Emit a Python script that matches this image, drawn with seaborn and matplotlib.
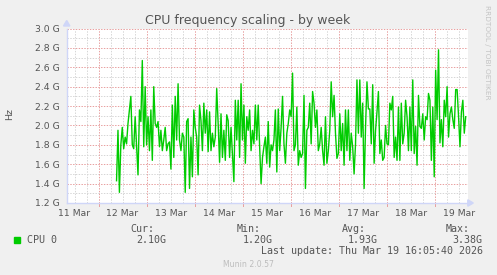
import numpy as np
import pandas as pd
import matplotlib
matplotlib.use("Agg")
import matplotlib.pyplot as plt
import seaborn as sns

# ---------------- data ----------------
title = "CPU frequency scaling - by week"
day_labels = ["11 Mar", "12 Mar", "13 Mar", "14 Mar", "15 Mar", "16 Mar", "17 Mar", "18 Mar", "19 Mar"]
ytick_values = [1.2, 1.4, 1.6, 1.8, 2.0, 2.2, 2.4, 2.6, 2.8, 3.0]
ytick_labels = ["1.2 G", "1.4 G", "1.6 G", "1.8 G", "2.0 G", "2.2 G", "2.4 G", "2.6 G", "2.8 G", "3.0 G"]
series_name = "CPU 0"
stat_names = ["Cur:", "Min:", "Avg:", "Max:"]
stat_values = ["2.10G", "1.20G", "1.93G", "3.38G"]
last_update = "Last update: Thu Mar 19 16:05:40 2026"

# time window in days since 11 Mar 00:00
view_start, view_end = 0.337, 8.700
data_start, data_end = 1.375, 8.646

# CPU frequency (GHz)
cpu0 = [
    1.43, 1.95, 1.31, 1.80, 1.98, 1.76, 1.88, 1.81, 2.02, 2.16, 2.30, 1.80, 1.76, 2.09, 1.78, 1.49,
    2.16, 2.04, 2.67, 1.78, 2.40, 1.80, 2.09, 1.74, 2.16, 1.64, 2.40, 2.02, 1.98, 2.04, 1.78, 1.95, 1.74,
    1.85, 1.98, 1.74, 1.81, 1.83, 1.55, 2.21, 1.67, 2.30, 1.85, 2.43, 1.85, 1.74, 1.92, 1.88, 1.31,
    2.04, 2.07, 1.35, 1.88, 1.47, 2.16, 1.98, 1.88, 1.49, 2.21, 2.05, 1.74, 2.23, 1.92, 2.16, 1.73,
    2.14, 1.74, 1.92, 1.78, 1.88, 2.38, 2.02, 1.62, 2.12, 1.67, 1.95, 1.64, 2.11, 2.05, 1.67, 1.98,
    1.69, 1.42, 2.26, 1.85, 2.26, 1.67, 2.43, 1.85, 2.21, 1.61, 2.09, 1.95, 2.16, 1.74, 1.95, 1.81, 2.21, 1.85,
    2.21, 1.78, 1.40, 1.67, 1.78, 1.88, 1.61, 2.04, 1.57, 1.80, 1.74, 1.85, 2.16, 1.52, 2.17, 1.74,
    1.98, 2.30, 1.81, 1.61, 1.92, 2.02, 2.16, 2.09, 2.54, 1.74, 1.80, 2.19, 1.59, 1.74, 1.67, 1.71,
    2.31, 1.35, 1.95, 1.98,
    2.23, 1.81, 2.35, 2.23, 1.98, 2.16, 1.74, 1.81, 1.98, 1.74, 1.59, 2.09, 1.61, 1.74, 1.95, 2.45,
    2.09, 2.31, 1.92, 1.66, 1.71, 2.12, 1.74, 2.02, 1.59, 2.16, 1.74, 2.16, 1.64, 1.92, 1.78, 1.50, 1.81, 2.47,
    1.92, 2.47, 1.88, 2.23, 1.35, 1.98, 2.45, 2.17, 2.17, 1.81, 2.42, 1.61, 1.95, 2.14, 2.35, 1.71,
    1.85, 1.64, 1.67, 2.00, 1.81, 1.80, 2.23, 2.16, 2.30, 1.67, 1.88, 1.64, 2.19, 1.64, 2.23, 1.81,
    1.92, 2.26, 2.09, 1.74,
    2.19, 1.74, 2.47, 1.71, 1.99, 1.59, 2.31, 1.99, 1.97, 2.12, 1.85, 2.09, 2.06, 2.33, 2.26, 1.64,
    2.19, 1.47, 2.57, 2.06, 2.78, 1.82, 2.06, 1.78, 2.26, 2.09, 2.40, 1.88, 2.12, 2.19, 2.06, 1.97,
    2.37, 2.37, 2.09, 1.78, 2.14, 2.26, 1.92, 2.09,
]

# ---------------- styling ----------------
BG = "#F0F0F0"
FONT = "#555555"
AXIS = "#CFD6F8"
MAJ = "#E8A0A0"
MIN = "#D6D6D6"
GREEN = "#00CC00"

W, H = 497, 275
fig = plt.figure(figsize=(W / 100, H / 100), dpi=100, facecolor=BG)
ax_left, ax_right, ax_top, ax_bot = 66.7, 468.3, 28.5, 203.0
ax = fig.add_axes([ax_left / W, 1 - ax_bot / H, (ax_right - ax_left) / W, (ax_bot - ax_top) / H])
ax.set_facecolor("white")

df = pd.DataFrame({"t": np.linspace(data_start, data_end, len(cpu0)), "hz": cpu0})
sns.lineplot(data=df, x="t", y="hz", ax=ax, color=GREEN, lw=1.0, zorder=5, legend=False)

ax.set_xlim(view_start, view_end)
ax.set_ylim(ytick_values[0], ytick_values[-1])

# grids
dash = (0, (1.4, 1.4))
lw = 0.72
yminor = np.arange(12, 31) / 10.0
for y in yminor:
    if round(y * 10) % 2 == 1:
        ax.axhline(y, color=MIN, lw=lw, ls=dash, zorder=1)
for y in ytick_values[1:]:
    ax.axhline(y, color=MAJ, lw=lw, ls=dash, zorder=2)
quarter = np.arange(0, 36) * 0.25
for x in quarter:
    if view_start < x < view_end:
        if abs(x - round(x)) < 1e-6:
            ax.axvline(x, color=MAJ, lw=lw, ls=dash, zorder=2)
            ax.axvline(x, ymin=-0.018, ymax=0, color=MAJ, lw=lw, clip_on=False, zorder=2)
        else:
            ax.axvline(x, color=MIN, lw=lw, ls=dash, zorder=1)

# ticks
ax.set_xticks([i + 0.5 for i in range(len(day_labels))])
ax.set_xticklabels(day_labels)
ax.set_yticks(ytick_values)
ax.set_yticklabels(ytick_labels)
ax.tick_params(axis="both", length=0, labelsize=6.7, colors=FONT)
ax.tick_params(axis="x", pad=4.2)
ax.tick_params(axis="y", pad=5.0)
ax.set_xlabel("")
ax.set_ylabel("")

for s in ["top", "right"]:
    ax.spines[s].set_visible(False)
for s in ["left", "bottom"]:
    ax.spines[s].set_color(AXIS)
    ax.spines[s].set_linewidth(1.0)
    ax.spines[s].set_zorder(6)

# arrows
fig.patches.append(matplotlib.patches.Polygon(
    [[(ax_left - 3.2) / W, 1 - 26.0 / H], [(ax_left + 3.2) / W, 1 - 26.0 / H], [ax_left / W, 1 - 20.5 / H]],
    closed=True, transform=fig.transFigure, color=AXIS, zorder=10))
fig.patches.append(matplotlib.patches.Polygon(
    [[(ax_right - 0.5) / W, 1 - (ax_bot - 3.2) / H], [(ax_right - 0.5) / W, 1 - (ax_bot + 3.2) / H],
     [(ax_right + 5) / W, 1 - ax_bot / H]],
    closed=True, transform=fig.transFigure, color=AXIS, zorder=10))

# texts
fig.text(247.7 / W, 1 - 24.3 / H, title, ha="center", va="baseline", fontsize=9.0, color=FONT)
fig.text(10 / W, 1 - 114 / H, "Hz", ha="center", va="center", rotation=90, fontsize=6.8, color=FONT)
fig.text(487 / W, 1 - 5 / H, "RRDTOOL / TOBI OETIKER", ha="center", va="top", rotation=270,
         fontsize=5.3, color="#C4C4C4")

mono = "DejaVu Sans Mono"
name_right = [154.5, 260.3, 365.7, 470.0]
val_right = [166.7, 272.7, 377.7, 482.7]
for nm, xr in zip(stat_names, name_right):
    fig.text(xr / W, 1 - 231.7 / H, nm, ha="right", va="baseline", fontsize=7.2, family=mono, color=FONT)
for v, xr in zip(stat_values, val_right):
    fig.text(xr / W, 1 - 243.3 / H, v, ha="right", va="baseline", fontsize=7.2, family=mono, color=FONT)
fig.patches.append(matplotlib.patches.Rectangle((14 / W, 1 - 243 / H), 6 / W, 6 / H,
                                                transform=fig.transFigure, color=GREEN))
fig.text(26.7 / W, 1 - 243.3 / H, series_name, ha="left", va="baseline", fontsize=7.2, family=mono, color=FONT)
fig.text(482.7 / W, 1 - 254.5 / H, last_update, ha="right", va="baseline", fontsize=7.2, family=mono, color=FONT)
fig.text(248 / W, 1 - 267 / H, "Munin 2.0.57", ha="center", va="baseline", fontsize=5.6, color="#BDBDBD")

fig.savefig("out.png", dpi=100, facecolor=BG)
